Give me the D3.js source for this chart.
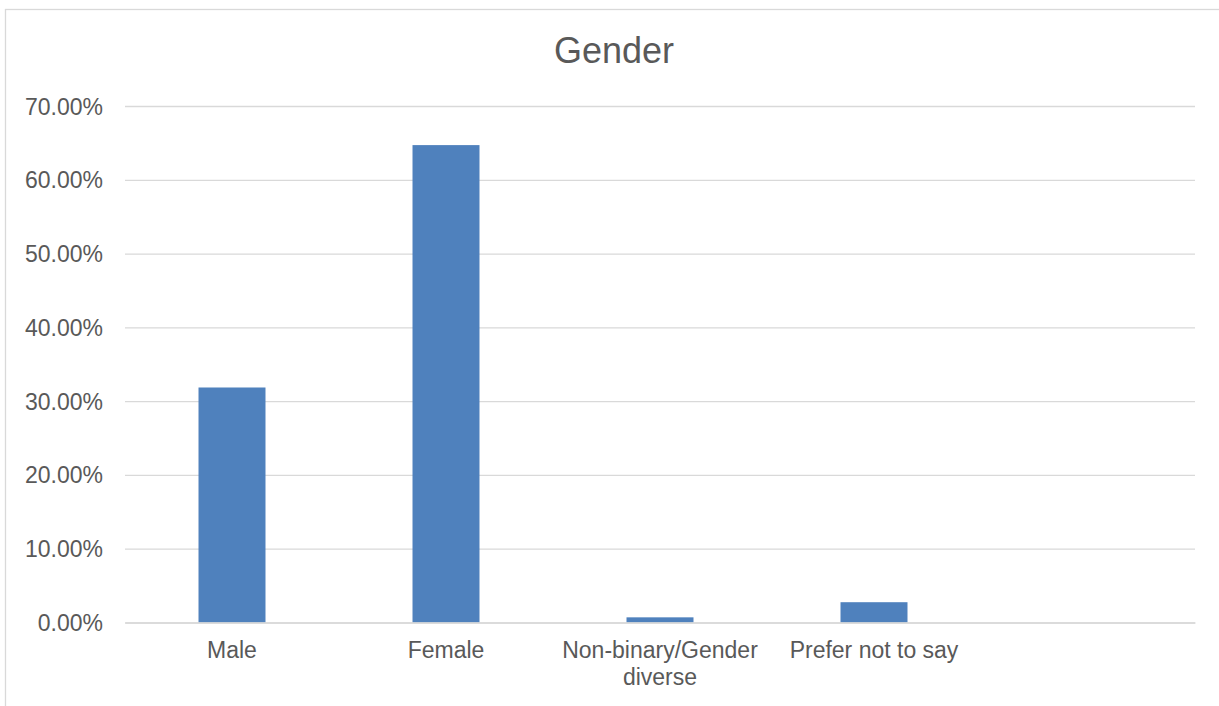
<!DOCTYPE html>
<html>
<head>
<meta charset="utf-8">
<script src="https://cdn.jsdelivr.net/npm/d3@7/dist/d3.min.js"></script>
<style>
  html, body { margin: 0; padding: 0; background: #fff; }
  svg { display: block; }
  text { font-family: "Liberation Sans", Arial, sans-serif; fill: #595959; }
</style>
</head>
<body>
<svg id="chart" width="1219" height="706"></svg>
<script>
const title = "Gender";
const categories = ["Male", "Female", "Non-binary/Gender diverse", "Prefer not to say", ""];
const labelLines = [["Male"], ["Female"], ["Non-binary/Gender", "diverse"], ["Prefer not to say"], [""]];
const values = [31.85, 64.7, 0.7, 2.75, null];
const yTicks = [0, 10, 20, 30, 40, 50, 60, 70];

const svg = d3.select("#chart");
const W = 1219, H = 706;
const plot = { left: 125, right: 1195, top: 106, bottom: 622.5 };

// chart border (extends past right/bottom edges like the reference crop)
svg.append("rect")
  .attr("x", 5.5).attr("y", 9.5)
  .attr("width", W + 20).attr("height", H + 20)
  .attr("fill", "#fff").attr("stroke", "#D9D9D9").attr("stroke-width", 1.3);

const x = d3.scaleBand().domain(categories.map((c, i) => i)).range([plot.left, plot.right])
  .paddingInner(0.687).paddingOuter(0.3435);
const y = d3.scaleLinear().domain([0, 70]).range([plot.bottom, plot.top]);

// gridlines
const yAxis = d3.axisLeft(y).tickValues(yTicks).tickSize(-(plot.right - plot.left))
  .tickPadding(22).tickFormat(d => d.toFixed(2) + "%");
const gy = svg.append("g").attr("transform", `translate(${plot.left},0)`).call(yAxis);
gy.select(".domain").remove();
gy.selectAll(".tick line").attr("stroke", "#D9D9D9").attr("stroke-width", 1.3);
gy.selectAll(".tick text").attr("font-size", 23).attr("fill", "#595959").attr("dy", "0.35em");

// bars
svg.append("g").selectAll("rect")
  .data(values.map((v, i) => ({ v, i })).filter(d => d.v != null))
  .join("rect")
  .attr("x", d => x(d.i))
  .attr("width", x.bandwidth())
  .attr("y", d => y(d.v))
  .attr("height", d => y(0) - y(d.v))
  .attr("fill", "#4F81BD");

// baseline axis
const xAxis = d3.axisBottom(x).tickSize(0).tickFormat(() => "");
const gx = svg.append("g").attr("transform", `translate(0,${plot.bottom})`).call(xAxis);
gx.select(".domain").attr("stroke", "#D9D9D9").attr("stroke-width", 1.3);

// category labels
const step = x.step();
const lab = svg.append("g");
labelLines.forEach((lines, i) => {
  const cx = x(i) + x.bandwidth() / 2;
  const t = lab.append("text").attr("text-anchor", "middle").attr("font-size", 23)
    .attr("x", cx).attr("y", 658);
  lines.forEach((ln, j) => {
    t.append("tspan").attr("x", cx).attr("dy", j === 0 ? 0 : 27).text(ln);
  });
});

// title
svg.append("text").attr("x", 614).attr("y", 63).attr("text-anchor", "middle")
  .attr("font-size", 36).attr("fill", "#595959").text(title);
</script>
</body>
</html>
